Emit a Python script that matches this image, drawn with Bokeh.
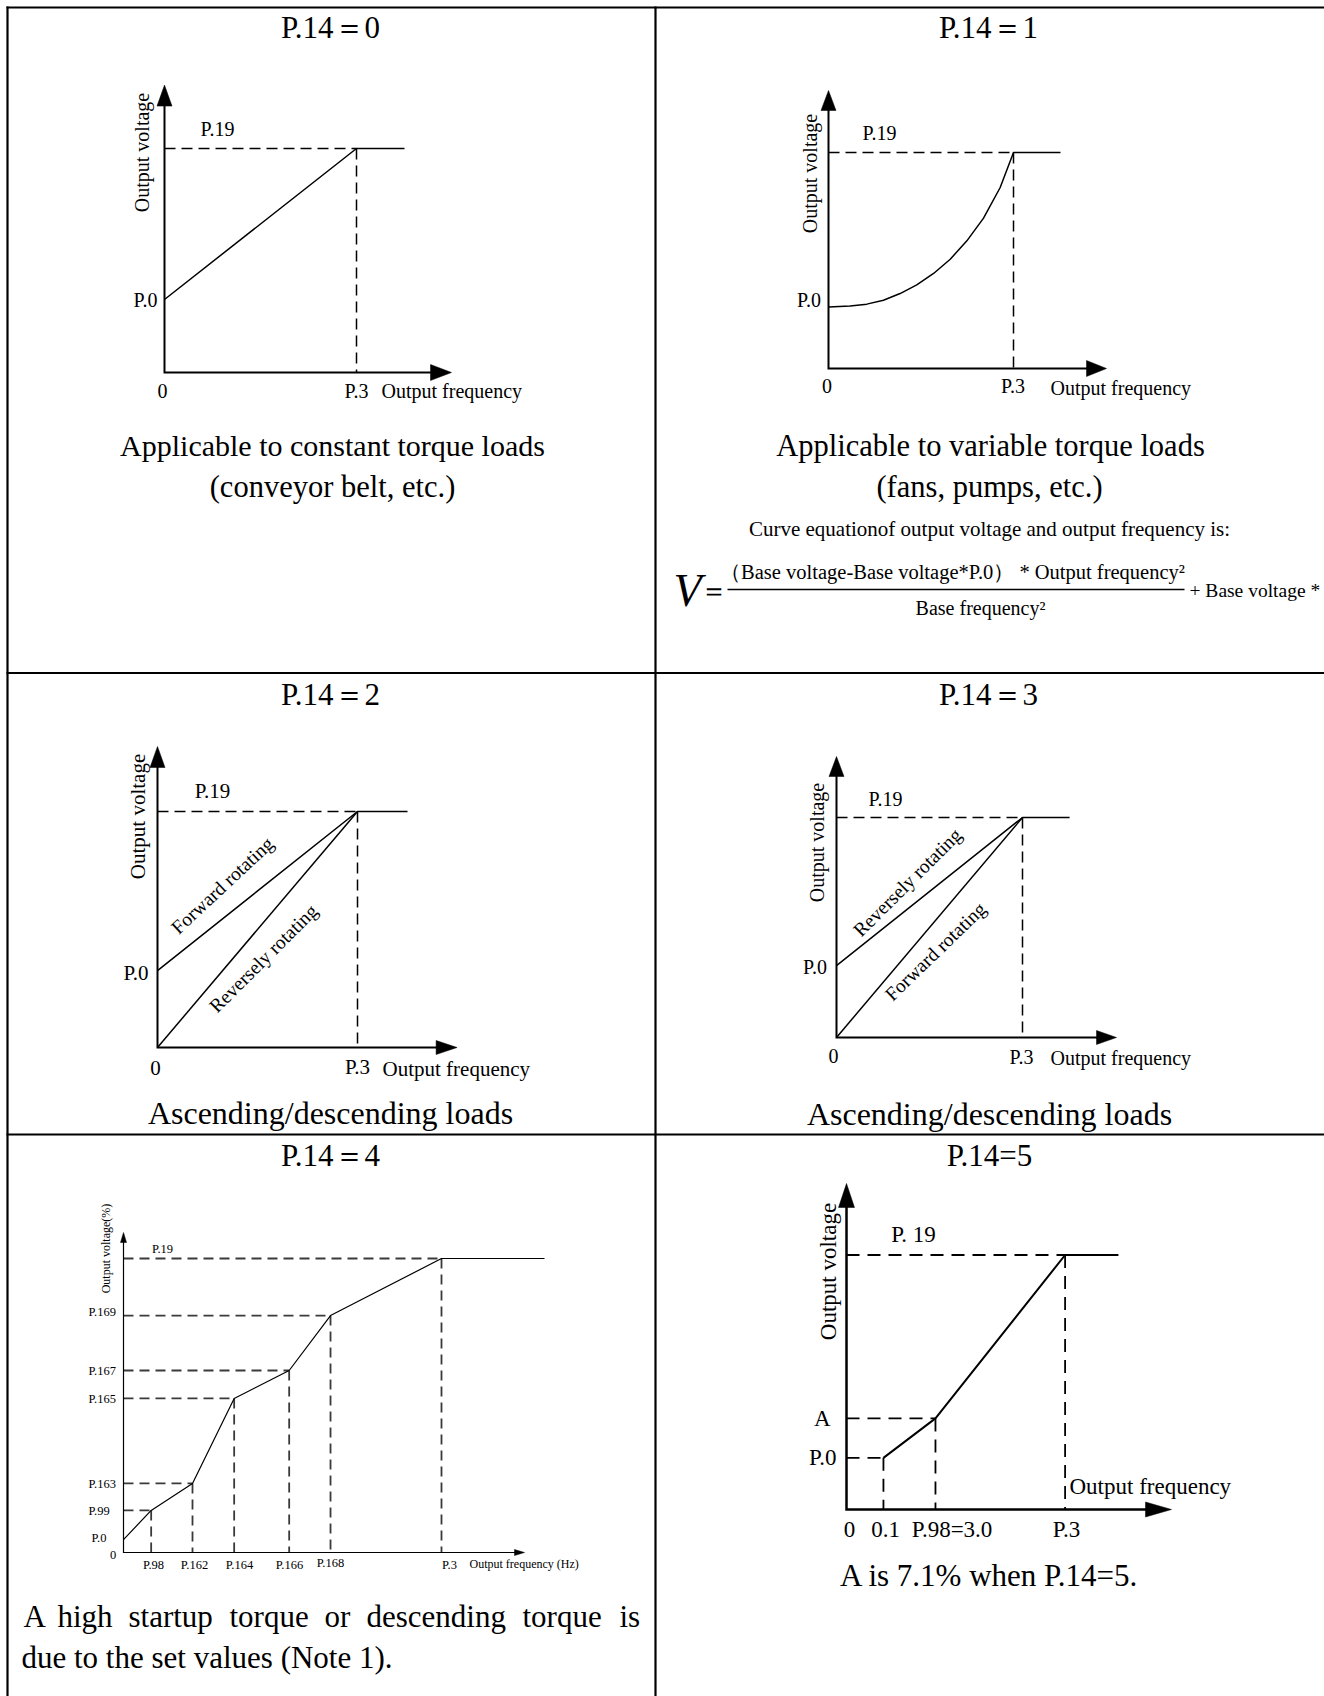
import math
from bokeh.plotting import figure
from bokeh.models import Range1d
from bokeh.embed import file_html
from bokeh.resources import INLINE
from bokeh.core.properties import value

# ---------------- data (frequency normalised to P.3 = 1, voltage to P.19 = 1) -------------
# P.14 = 0 : constant torque
f0 = [0.0, 1.0, 1.25]
v0 = [0.326, 1.0, 1.0]

# P.14 = 1 : variable torque curve
f1 = [0.0, 0.117, 0.207, 0.297, 0.387, 0.477, 0.568, 0.658, 0.748, 0.838, 0.928, 1.0, 1.254]
v1 = [0.285, 0.289, 0.298, 0.316, 0.347, 0.387, 0.440, 0.506, 0.591, 0.696, 0.838, 1.0, 1.0]

# P.14 = 2 : ascending / descending
f2_upper = [0.0, 1.0, 1.25]
v2_upper = [0.326, 1.0, 1.0]
f2_lower = [0.0, 1.0]
v2_lower = [0.0, 1.0]

# P.14 = 3
f3_upper = [0.0, 1.0, 1.253]
v3_upper = [0.327, 1.0, 1.0]
f3_lower = [0.0, 1.0]
v3_lower = [0.0, 1.0]

# P.14 = 4 : multi-point V/F
f4 = [0.0, 0.087, 0.217, 0.348, 0.521, 0.651, 1.0, 1.324]
v4 = [0.044, 0.143, 0.235, 0.524, 0.619, 0.806, 1.0, 1.0]
f4_labels = ["P.98", "P.162", "P.164", "P.166", "P.168", "P.3"]
v4_labels = ["P.99", "P.163", "P.165", "P.167", "P.169", "P.19"]

# P.14 = 5
f5 = [0.169, 0.407, 1.0, 1.244]
v5 = [0.203, 0.358, 1.0, 1.0]

# ---------------- layout ----------------
W, H = 1324, 1696
OFF = 0
FONT = "Liberation Serif"

# panel geometry in page pixels: origin, pixels per unit, arrow tips
geo = {
    "p0": dict(ox=164, oy=372, ux=192, uy=224, xt=451, yt=84.6),
    "p1": dict(ox=828, oy=368, ux=185, uy=216, xt=1106, yt=90),
    "p2": dict(ox=157, oy=1047, ux=200, uy=236, xt=456.6, yt=746),
    "p3": dict(ox=836, oy=1037, ux=186, uy=220, xt=1116, yt=756),
    "p4": dict(ox=123, oy=1552, ux=318, uy=294, xt=524, yt=1232),
    "p5": dict(ox=846, oy=1509, ux=218.6, uy=254.5, xt=1171, yt=1183),
}

p = figure(width=W, height=H, x_range=Range1d(0, W), y_range=Range1d(H, 0),
           toolbar_location=None, output_backend="svg", min_border=0,
           x_axis_location=None, y_axis_location=None, outline_line_color=None)
p.grid.visible = False
p.background_fill_color = "white"
p.border_fill_color = "white"

for name, g in geo.items():
    fx = g["ox"] - OFF
    fy = g["oy"] - OFF
    p.extra_x_ranges[name] = Range1d(start=-fx / g["ux"], end=(W - fx) / g["ux"])
    p.extra_y_ranges[name] = Range1d(start=(fy - H) / g["uy"], end=fy / g["uy"])


def T(x, y, text, size, align="center", baseline="middle", angle=0.0, italic=False, color="black"):
    p.text(x=[x - OFF], y=[y - OFF], text=[text], text_font=value(FONT),
           text_font_size=f"{size}px", text_align=align, text_baseline=baseline,
           angle=angle, text_color=color,
           text_font_style="italic" if italic else "normal")


def axes(name, lw, yL, yhw, xL, xhw):
    g = geo[name]
    ox, oy = g["ox"] - OFF, g["oy"] - OFF
    xt, yt = g["xt"] - OFF, g["yt"] - OFF
    p.line([ox, ox, xt - xL * 0.5], [yt + yL * 0.5, oy, oy], line_width=lw, color="black",
           line_join="miter")
    p.patch([ox, ox - yhw, ox + yhw], [yt, yt + yL, yt + yL], color="black", line_width=0.5)
    p.patch([xt, xt - xL, xt - xL], [oy, oy - xhw, oy + xhw], color="black", line_width=0.5)


def guides(name, fs, vs, dash, lw=1.5, color="black"):
    xs, ys = [], []
    for f, v in zip(fs, vs):
        xs.append([0, f]); ys.append([v, v])
        xs.append([f, f]); ys.append([v, 0])
    p.multi_line(xs, ys, x_range_name=name, y_range_name=name, line_dash=dash,
                 line_width=lw, color=color)


def curve(name, fs, vs, lw=1.5):
    p.line(fs, vs, x_range_name=name, y_range_name=name, line_width=lw, color="black")


# ---------------- table lines ----------------
TL = 2.2
p.line([6, W], [7, 7], line_width=TL, color="black")
p.line([7, 7], [6, H], line_width=TL, color="black")
p.line([655, 655], [6, H], line_width=TL, color="black")
p.line([6, W], [672.5, 672.5], line_width=TL, color="black")
p.line([6, W], [1134, 1134], line_width=TL, color="black")

# ---------------- titles ----------------
for txt, x, y in [("P.14＝0", 330, 27), ("P.14＝1", 988, 27), ("P.14＝2", 330, 694),
                  ("P.14＝3", 988, 694), ("P.14＝4", 330, 1155), ("P.14=5", 989, 1155)]:
    T(x, y, txt, 31)

# ---------------- panel P.14=0 ----------------
guides("p0", [f0[1]], [v0[1]], "11 6")
curve("p0", f0, v0)
axes("p0", 2, 21, 7.5, 21, 8)
T(217, 128, "P.19", 20)
T(157, 299, "P.0", 20, align="right")
T(162, 390, "0", 20)
T(356, 390, "P.3", 20)
T(381, 390, "Output frequency", 20, align="left")
T(141, 152, "Output voltage", 20, angle=math.pi / 2)
T(332, 445, "Applicable to constant torque loads", 30)
T(332, 486, "(conveyor belt, etc.)", 30.5)

# ---------------- panel P.14=1 ----------------
guides("p1", [f1[11]], [v1[11]], "11 6")
curve("p1", f1, v1)
axes("p1", 2, 20, 7.5, 20, 8)
T(879, 132, "P.19", 20)
T(820.5, 299, "P.0", 20, align="right")
T(826.5, 385, "0", 20)
T(1012.5, 385, "P.3", 20)
T(1050, 387, "Output frequency", 20, align="left")
T(809, 173, "Output voltage", 20, angle=math.pi / 2)
T(990, 445, "Applicable to variable torque loads", 30.5)
T(989, 486, "(fans, pumps, etc.)", 30.5)
T(989, 528, "Curve equationof output voltage and output frequency is:", 21)
T(687, 590, "V", 46, italic=True)
T(713, 590, "＝", 28)
p.line([727 - OFF, 1184 - OFF], [589 - OFF, 589 - OFF], line_width=1.6, color="black")
T(952, 571, "（Base voltage-Base voltage*P.0） * Output frequency²", 20.5)
T(980, 607, "Base frequency²", 20)
T(1189, 590, "+ Base voltage *", 19.5, align="left")

# ---------------- panel P.14=2 ----------------
guides("p2", [f2_upper[1]], [v2_upper[1]], "11 6")
curve("p2", f2_upper, v2_upper)
curve("p2", f2_lower, v2_lower)
axes("p2", 2, 21, 7.5, 21, 7)
T(212, 790, "P.19", 21)
T(148, 972, "P.0", 21, align="right")
T(155, 1067, "0", 21)
T(357, 1066, "P.3", 21)
T(382, 1068, "Output frequency", 21, align="left")
T(137, 816, "Output voltage", 21, angle=math.pi / 2)
T(222, 885, "Forward rotating", 19.5, angle=math.radians(43))
T(263, 958, "Reversely rotating", 19.5, angle=math.radians(45))
T(330, 1112, "Ascending/descending loads", 32)

# ---------------- panel P.14=3 ----------------
guides("p3", [f3_upper[1]], [v3_upper[1]], "11 6")
curve("p3", f3_upper, v3_upper)
curve("p3", f3_lower, v3_lower)
axes("p3", 2, 20, 7.5, 20, 7)
T(885, 798, "P.19", 20)
T(826.5, 966, "P.0", 20, align="right")
T(833, 1055, "0", 20)
T(1021, 1056, "P.3", 20)
T(1050, 1057, "Output frequency", 20, align="left")
T(816, 842, "Output voltage", 20, angle=math.pi / 2)
T(907, 882, "Reversely rotating", 19.5, angle=math.radians(45))
T(935, 951, "Forward rotating", 19.5, angle=math.radians(44))
T(989, 1113, "Ascending/descending loads", 32)

# ---------------- panel P.14=4 ----------------
guides("p4", f4[1:7], v4[1:7], "10 6", lw=1.8, color="#3a3a3a")
curve("p4", f4, v4, lw=1.2)
axes("p4", 1.2, 10, 3, 10, 3)
T(162, 1248, "P.19", 12.5)
for lab, y in zip(v4_labels[:-1], [1510, 1483, 1398, 1370, 1311]):
    T(88, y, lab, 12.5, align="left")
T(91, 1537, "P.0", 12.5, align="left")
T(112.5, 1554, "0", 12.5)
for lab, x in zip(f4_labels, [153, 194, 239, 289, 330, 449]):
    T(x, 1564 if lab != "P.168" else 1562, lab, 12.5)
T(469, 1563, "Output frequency (Hz)", 12, align="left")
T(105, 1248, "Output voltage(%)", 12, angle=math.pi / 2)
for word, x in [("A", 23), ("high", 57), ("startup", 128), ("torque", 229), ("or", 324),
                ("descending", 366), ("torque", 522), ("is", 619)]:
    T(x, 1616, word, 31, align="left")
T(21, 1657, "due to the set values (Note 1).", 31, align="left")

# ---------------- panel P.14=5 ----------------
guides("p5", f5[0:3], v5[0:3], "13 8", lw=1.8)
curve("p5", f5, v5, lw=2)
axes("p5", 2.5, 24, 8, 26, 7.5)
T(913, 1234, "P. 19", 23)
T(830, 1418, "A", 23, align="right")
T(836, 1457, "P.0", 23, align="right")
T(849, 1529, "0", 23)
T(885, 1529, "0.1", 23)
T(951.5, 1529, "P.98=3.0", 23)
T(1066, 1529, "P.3", 23)
T(1069, 1486, "Output frequency", 23, align="left")
T(828, 1271, "Output voltage", 23, angle=math.pi / 2)
T(989, 1575, "A is 7.1% when P.14=5.", 31)

open("out.html", "w").write(file_html(p, INLINE))
